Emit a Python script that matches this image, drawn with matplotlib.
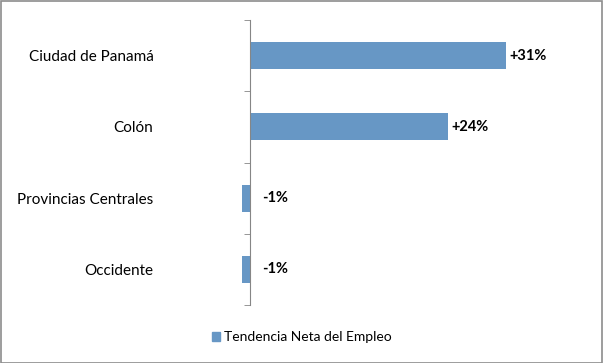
import matplotlib
matplotlib.use('Agg')
import matplotlib.pyplot as plt
from matplotlib.patches import Rectangle, Patch

regions = ['Ciudad de Panamá', 'Colón', 'Provincias Centrales', 'Occidente']
values = [31, 24, -1, -1]
labels = ['+31%', '+24%', '-1%', '-1%']
series_name = 'Tendencia Neta del Empleo'

bar_color = '#6797c5'
axis_color = '#868686'

plt.rcParams['font.family'] = ['Lato', 'DejaVu Sans']

W, H = 603, 363
fig = plt.figure(figsize=(W / 100, H / 100), dpi=100)

# plot area in pixels: y from 20 to 305, x scaled so 0 sits at 250 px
x0_px, px_per_unit = 250, 8.26
xmin, xmax = -2, 40
left_px = x0_px + xmin * px_per_unit
width_px = (xmax - xmin) * px_per_unit
ax = fig.add_axes([left_px / W, 1 - 305 / H, width_px / W, 285 / H])

n = len(regions)
ypos = list(range(n))[::-1]
ax.barh(ypos, values, height=0.38, color=bar_color, zorder=2)
ax.set_xlim(xmin, xmax)
ax.set_ylim(-0.5, n - 0.5)

for y, v, lab in zip(ypos, values, labels):
    off = 2.5 if v > 0 else 9
    ax.annotate(lab, (max(v, 0), y), xytext=(off, 0), textcoords='offset points',
                va='center', ha='left', fontsize=10.5, fontweight='bold', color='black')

for s in ['top', 'right', 'bottom']:
    ax.spines[s].set_visible(False)
ax.spines['left'].set_color(axis_color)
ax.spines['left'].set_position(('data', 0))
ax.set_xticks([])
ax.set_yticks(ypos)
ax.set_yticklabels(regions, fontsize=11)
ax.tick_params(axis='y', which='major', length=0, pad=69.5)
ax.set_yticks([i - 0.5 for i in range(n + 1)], minor=True)
ax.tick_params(axis='y', which='minor', length=4, color=axis_color, direction='out')

fig.legend(handles=[Patch(color=bar_color, label=series_name)], loc='center',
           bbox_to_anchor=(302 / W, 1 - 337 / H), frameon=False, fontsize=10,
           handlelength=0.6, handleheight=0.6, handletextpad=0.3)

fig.patches.append(Rectangle((0.5 / W, 0.5 / H), 1 - 1.5 / W, 1 - 1.5 / H, transform=fig.transFigure,
                             fill=False, edgecolor='#8c8c8c', linewidth=1.2))

fig.savefig('out.png', dpi=100)
plt.close(fig)
